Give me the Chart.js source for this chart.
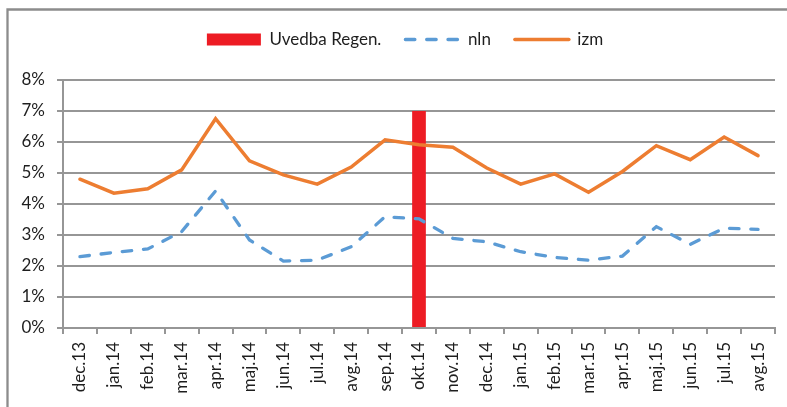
<!DOCTYPE html>
<html>
<head>
<meta charset="utf-8">
<script src="https://cdn.jsdelivr.net/npm/chart.js@4/dist/chart.umd.min.js"></script>
<style>
  html, body { margin: 0; padding: 0; background: #ffffff; }
  #wrap { width: 787px; height: 407px; position: relative; }
</style>
</head>
<body>
<div id="wrap"><canvas id="c" width="787" height="407"></canvas></div>
<script>
// Monthly categories
const months = ['dec.13', 'jan.14', 'feb.14', 'mar.14', 'apr.14', 'maj.14', 'jun.14', 'jul.14',
  'avg.14', 'sep.14', 'okt.14', 'nov.14', 'dec.14', 'jan.15', 'feb.15', 'mar.15', 'apr.15',
  'maj.15', 'jun.15', 'jul.15', 'avg.15'];

// Series values (percent)
const nln = [2.30, 2.44, 2.55, 3.11, 4.42, 2.84, 2.16, 2.19, 2.62, 3.59, 3.52,
  2.89, 2.78, 2.46, 2.28, 2.19, 2.32, 3.27, 2.70, 3.22, 3.18];
const izm = [4.80, 4.35, 4.49, 5.10, 6.75, 5.39, 4.94, 4.64, 5.19, 6.07, 5.91,
  5.83, 5.16, 4.64, 4.97, 4.38, 5.05, 5.88, 5.43, 6.16, 5.56];

// Marker bar for the month the regulation was introduced
const uvedbaRegen = [null, null, null, null, null, null, null, null, null, null, 7,
  null, null, null, null, null, null, null, null, null, null];

// Y axis tick values
const yTicks = [0, 1, 2, 3, 4, 5, 6, 7, 8];

const GRID = '#969696';
const TEXT = '#1e1e1e';
const FONT = 'Lato';
const FONT_SIZE = 17;

// Thin frame along the top and left edges
const framePlugin = {
  id: 'frame',
  beforeDraw(chart) {
    const ctx = chart.ctx;
    ctx.save();
    ctx.strokeStyle = '#8c8c8c';
    ctx.lineWidth = 2.3;
    ctx.beginPath();
    ctx.moveTo(7.5, 407);
    ctx.lineTo(7.5, 9.5);
    ctx.lineTo(787, 9.5);
    ctx.stroke();
    ctx.restore();
  }
};

// Reserve a fixed band for the legend above the plot and centre it over the whole frame
const legendBandPlugin = {
  id: 'legendBand',
  afterInit(chart) {
    const lg = chart.legend;
    if (!lg) return;
    const origFit = lg.fit;
    lg.fit = function () {
      origFit.call(this);
      this.height = 73;
    };
  },
  afterLayout(chart) {
    const lg = chart.legend;
    if (!lg) return;
    lg.left = 35;
  }
};

new Chart(document.getElementById('c'), {
  data: {
    labels: months,
    datasets: [
      {
        type: 'bar',
        label: 'Uvedba Regen.',
        data: uvedbaRegen,
        backgroundColor: '#ED1C24',
        borderWidth: 0,
        categoryPercentage: 1,
        barPercentage: 0.404,
        order: 2
      },
      {
        type: 'line',
        label: 'nln',
        data: nln,
        borderColor: '#5B9BD5',
        borderWidth: 3.3,
        borderDash: [9.5, 11.8],
        borderCapStyle: 'round',
        tension: 0,
        pointRadius: 0,
        fill: false,
        order: 1
      },
      {
        type: 'line',
        label: 'izm',
        data: izm,
        borderColor: '#ED7D31',
        borderWidth: 3.5,
        borderCapStyle: 'round',
        borderJoinStyle: 'miter',
        tension: 0,
        pointRadius: 0,
        fill: false,
        order: 0
      }
    ]
  },
  options: {
    responsive: false,
    animation: false,
    events: [],
    layout: { padding: { top: 7, left: 0, right: 12, bottom: 0 } },
    plugins: {
      tooltip: { enabled: false },
      legend: {
        display: true,
        position: 'top',
        align: 'center',
        labels: {
          usePointStyle: true,
          pointStyleWidth: 54,
          boxHeight: 12,
          padding: 24,
          color: TEXT,
          font: { family: FONT, size: FONT_SIZE },
          generateLabels(chart) {
            return chart.data.datasets.map((ds, i) => {
              const isBar = ds.type === 'bar';
              return {
                text: ds.label,
                datasetIndex: i,
                fillStyle: isBar ? ds.backgroundColor : 'rgba(0,0,0,0)',
                strokeStyle: isBar ? ds.backgroundColor : ds.borderColor,
                lineWidth: isBar ? 0 : ds.borderWidth,
                lineDash: ds.borderDash || [],
                lineCap: isBar ? 'butt' : 'round',
                pointStyle: isBar ? 'rect' : 'line',
                fontColor: TEXT,
                hidden: false
              };
            });
          }
        }
      }
    },
    scales: {
      x: {
        type: 'category',
        offset: true,
        grid: {
          display: true,
          drawOnChartArea: false,
          drawTicks: true,
          tickLength: 6,
          offset: true,
          color: GRID,
          lineWidth: 2
        },
        border: { display: true, color: GRID, width: 2 },
        ticks: {
          minRotation: 90,
          maxRotation: 90,
          autoSkip: false,
          padding: 8,
          color: TEXT,
          font: { family: FONT, size: FONT_SIZE }
        },
        afterFit(scale) { scale.height = 79; }
      },
      y: {
        type: 'linear',
        min: yTicks[0],
        max: yTicks[yTicks.length - 1],
        afterBuildTicks(scale) {
          scale.ticks = yTicks.map(v => ({ value: v }));
        },
        grid: {
          color: GRID,
          lineWidth: 2,
          tickLength: 6,
          drawTicks: true
        },
        border: { display: true, color: GRID, width: 2 },
        ticks: {
          padding: 12,
          color: TEXT,
          font: { family: FONT, size: FONT_SIZE },
          callback: v => v + '%'
        },
        afterFit(scale) { scale.width = 63; }
      }
    }
  },
  plugins: [framePlugin, legendBandPlugin]
});
</script>
</body>
</html>
